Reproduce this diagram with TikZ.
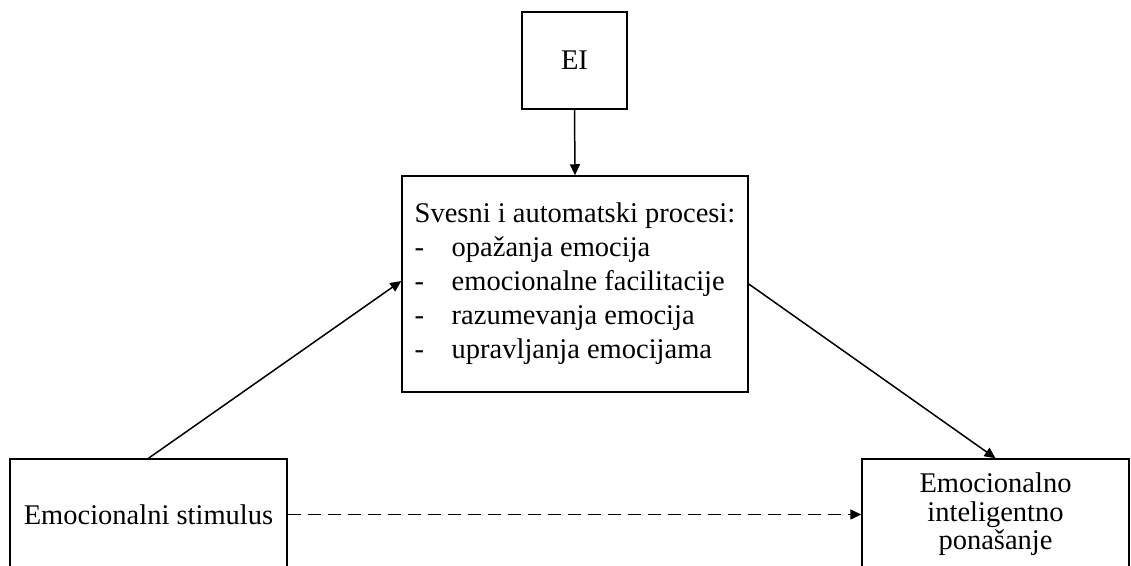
\documentclass[tikz,border=0pt]{standalone}
\usepackage{fontspec}
\setmainfont{Liberation Serif}
\usetikzlibrary{arrows.meta}
\begin{document}
\begin{tikzpicture}[x=1pt,y=-1pt,
  box/.style={draw,line width=1.5pt,inner sep=0pt,font=\fontsize{28.5}{34}\selectfont},
  conn/.style={line width=1.5pt,-{Triangle[length=11pt,width=10pt]}},
  dconn/.style={conn,dash pattern=on 13pt off 7pt}]
\useasboundingbox (0,0) rectangle (1131,565);
\node[box,minimum width=105pt,minimum height=97pt] (ei) at (574.5,60.5) {EI};
\node[box,minimum width=346pt,minimum height=216pt,align=left] (mid) at (575,284)
  {Svesni i automatski procesi:\\
   \makebox[37pt][l]{-}opažanja emocija\\
   \makebox[37pt][l]{-}emocionalne facilitacije\\
   \makebox[37pt][l]{-}razumevanja emocija\\
   \makebox[37pt][l]{-}upravljanja emocijama};
\node[box,minimum width=277pt,minimum height=111pt] (lb) at (148.5,514.5) {Emocionalni stimulus};
\node[box,minimum width=267pt,minimum height=111pt,align=center,font=\fontsize{28.5}{28.5}\selectfont] (rb) at (995.5,514.5)
  {Emocionalno\\inteligentno\\ponašanje};
\draw[conn] (ei.south) -- (mid.north);
\draw[conn] (lb.north) -- ([yshift=3pt]mid.west);
\draw[conn] (mid.east) -- (rb.north);
\draw[dconn] (lb.east) -- (rb.west);
\end{tikzpicture}
\end{document}
